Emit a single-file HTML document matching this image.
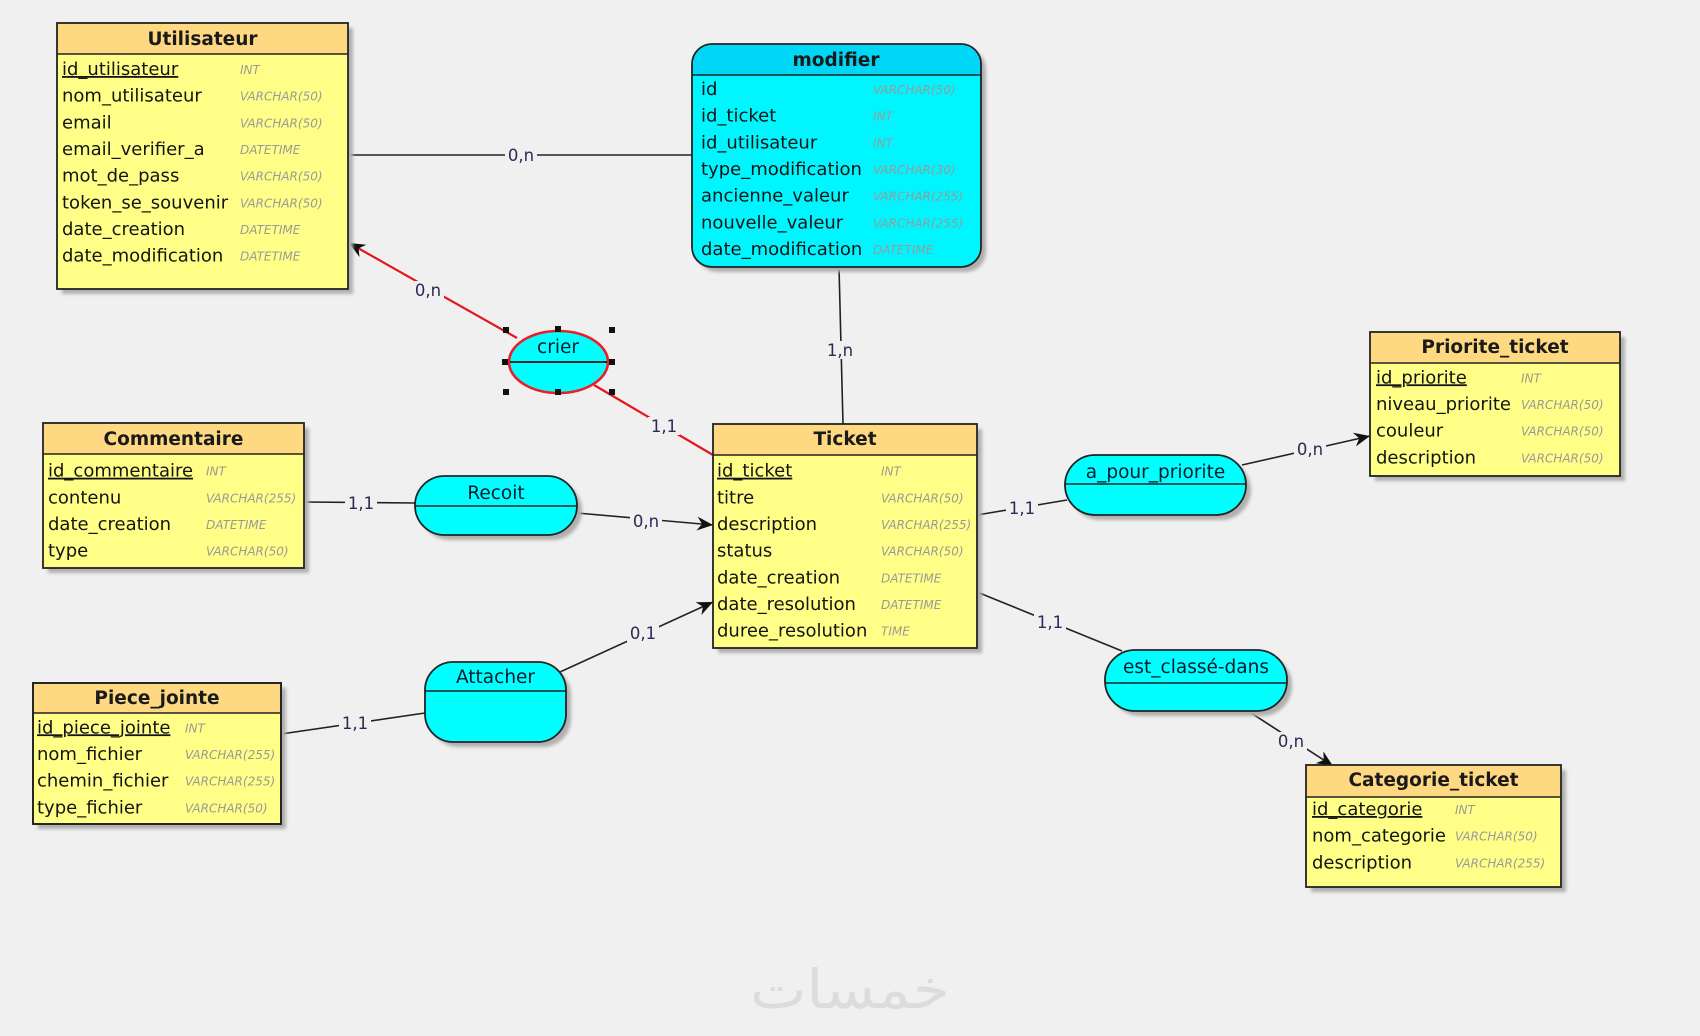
<!DOCTYPE html>
<html><head><meta charset="utf-8"><style>
html,body{margin:0;padding:0;background:#f0f0f0;}
svg{display:block;}
.t{font-family:"DejaVu Sans","Liberation Sans",sans-serif;font-size:18px;fill:#141414;}
.h{font-family:"DejaVu Sans","Liberation Sans",sans-serif;font-size:18.5px;font-weight:bold;fill:#1a1a1a;}
.ty{font-family:"DejaVu Sans","Liberation Sans",sans-serif;font-size:12px;font-style:italic;fill:#999;}
.a{font-family:"DejaVu Sans","Liberation Sans",sans-serif;font-size:18.5px;fill:#0a1a2a;}
.l{font-family:"DejaVu Sans","Liberation Sans",sans-serif;font-size:16.5px;fill:#2a2a55;}
.lb{fill:#f0f0f0;}
.u{text-decoration:underline;}
.ln{stroke:#222;stroke-width:1.6;fill:none;}
.ent{fill:#ffff88;stroke:#222;stroke-width:1.8;}
.hd{fill:#fed982;}
.sh{fill:#b0b0b0;filter:url(#blur);}
.as{fill:#00ffff;stroke:#222;stroke-width:1.8;}
</style></head><body>
<svg width="1700" height="1036" viewBox="0 0 1700 1036" xmlns="http://www.w3.org/2000/svg">
<defs>
<filter id="blur" x="-10%" y="-10%" width="120%" height="120%"><feGaussianBlur stdDeviation="1.5"/></filter>
<marker id="ar" markerUnits="userSpaceOnUse" markerWidth="17" markerHeight="14" refX="16" refY="7" orient="auto">
<path d="M0,0 L16,7 L0,14 L5,7 z" fill="#111"/>
</marker>
<clipPath id="cpPiece"><rect x="33" y="683" width="248" height="141"/></clipPath>
<clipPath id="cpCom"><rect x="43" y="423" width="261" height="145"/></clipPath>
</defs>
<rect width="1700" height="1036" fill="#f0f0f0"/>

<!-- watermark -->
<text x="850" y="1008" text-anchor="middle" font-family="DejaVu Sans, sans-serif" font-size="54" fill="#dcdcdc" textLength="200" lengthAdjust="spacingAndGlyphs">خمسات</text>

<!-- connectors -->
<line class="ln" x1="348" y1="155" x2="692" y2="155"/>
<line class="ln" x1="839" y1="267" x2="843" y2="424"/>
<line x1="517" y1="338" x2="349" y2="243" stroke="#e8141c" stroke-width="2.2" marker-end="url(#ar)"/>
<line x1="594" y1="385" x2="713" y2="455" stroke="#e8141c" stroke-width="2.2"/>
<line class="ln" x1="304" y1="502" x2="415" y2="503"/>
<polyline class="ln" points="577,513 713,525" marker-end="url(#ar)"/>
<line class="ln" x1="560" y1="672" x2="713" y2="602" marker-end="url(#ar)"/>
<line class="ln" x1="281" y1="734" x2="425" y2="713"/>
<line class="ln" x1="977" y1="515" x2="1067" y2="500"/>
<line class="ln" x1="1242" y1="465" x2="1370" y2="436" marker-end="url(#ar)"/>
<line class="ln" x1="977" y1="592" x2="1122" y2="651"/>
<line class="ln" x1="1248" y1="711" x2="1333" y2="766" marker-end="url(#ar)"/>

<!-- connector labels -->
<g>
<rect class="lb" x="505" y="146" width="32" height="18"/><text class="l" x="521" y="161" text-anchor="middle">0,n</text>
<rect class="lb" x="412" y="281" width="32" height="18"/><text class="l" x="428" y="296" text-anchor="middle">0,n</text>
<rect class="lb" x="648" y="417" width="32" height="18"/><text class="l" x="664" y="432" text-anchor="middle">1,1</text>
<rect class="lb" x="824" y="341" width="32" height="18"/><text class="l" x="840" y="356" text-anchor="middle">1,n</text>
<rect class="lb" x="345" y="494" width="32" height="18"/><text class="l" x="361" y="509" text-anchor="middle">1,1</text>
<rect class="lb" x="630" y="512" width="32" height="18"/><text class="l" x="646" y="527" text-anchor="middle">0,n</text>
<rect class="lb" x="627" y="624" width="32" height="18"/><text class="l" x="643" y="639" text-anchor="middle">0,1</text>
<rect class="lb" x="339" y="714" width="32" height="18"/><text class="l" x="355" y="729" text-anchor="middle">1,1</text>
<rect class="lb" x="1006" y="499" width="32" height="18"/><text class="l" x="1022" y="514" text-anchor="middle">1,1</text>
<rect class="lb" x="1294" y="440" width="32" height="18"/><text class="l" x="1310" y="455" text-anchor="middle">0,n</text>
<rect class="lb" x="1034" y="613" width="32" height="18"/><text class="l" x="1050" y="628" text-anchor="middle">1,1</text>
<rect class="lb" x="1275" y="732" width="32" height="18"/><text class="l" x="1291" y="747" text-anchor="middle">0,n</text>
</g>

<!-- Utilisateur -->
<rect class="sh" x="62" y="28" width="291" height="266"/>
<rect class="ent" x="57" y="23" width="291" height="266"/>
<rect class="hd" x="58" y="24" width="289" height="30"/>
<line class="ln" x1="57" y1="54" x2="348" y2="54" stroke-width="1.8"/>
<text class="h" x="202.5" y="45" text-anchor="middle">Utilisateur</text>
<text class="t u" x="62" y="75">id_utilisateur</text><text class="ty" x="240" y="74">INT</text>
<text class="t" x="62" y="101.7">nom_utilisateur</text><text class="ty" x="240" y="100.7">VARCHAR(50)</text>
<text class="t" x="62" y="128.3">email</text><text class="ty" x="240" y="127.3">VARCHAR(50)</text>
<text class="t" x="62" y="155">email_verifier_a</text><text class="ty" x="240" y="154">DATETIME</text>
<text class="t" x="62" y="181.7">mot_de_pass</text><text class="ty" x="240" y="180.7">VARCHAR(50)</text>
<text class="t" x="62" y="208.3">token_se_souvenir</text><text class="ty" x="240" y="207.3">VARCHAR(50)</text>
<text class="t" x="62" y="235">date_creation</text><text class="ty" x="240" y="234">DATETIME</text>
<text class="t" x="62" y="261.7">date_modification</text><text class="ty" x="240" y="260.7">DATETIME</text>

<!-- modifier -->
<rect class="sh" x="697" y="49" width="289" height="223" rx="20"/>
<rect x="692" y="44" width="289" height="223" rx="20" fill="#00f6ff" stroke="#222" stroke-width="1.8"/>
<path d="M693,75 L693,64 A19,19 0 0 1 712,45 L961,45 A19,19 0 0 1 980,64 L980,75 Z" fill="#00d6f6"/>
<line class="ln" x1="692" y1="75" x2="981" y2="75" stroke-width="1.8"/>
<text class="h" x="836" y="66" text-anchor="middle">modifier</text>
<text class="t" x="701" y="95">id</text><text class="ty" x="873" y="94">VARCHAR(50)</text>
<text class="t" x="701" y="121.7">id_ticket</text><text class="ty" x="873" y="120.7">INT</text>
<text class="t" x="701" y="148.3">id_utilisateur</text><text class="ty" x="873" y="147.3">INT</text>
<text class="t" x="701" y="175">type_modification</text><text class="ty" x="873" y="174">VARCHAR(30)</text>
<text class="t" x="701" y="201.7">ancienne_valeur</text><text class="ty" x="873" y="200.7">VARCHAR(255)</text>
<text class="t" x="701" y="228.3">nouvelle_valeur</text><text class="ty" x="873" y="227.3">VARCHAR(255)</text>
<text class="t" x="701" y="255">date_modification</text><text class="ty" x="873" y="254">DATETIME</text>

<!-- Ticket -->
<rect class="sh" x="718" y="429" width="264" height="224"/>
<rect class="ent" x="713" y="424" width="264" height="224"/>
<rect class="hd" x="714" y="425" width="262" height="30"/>
<line class="ln" x1="713" y1="455" x2="977" y2="455" stroke-width="1.8"/>
<text class="h" x="845" y="445" text-anchor="middle">Ticket</text>
<text class="t u" x="717" y="476.7">id_ticket</text><text class="ty" x="881" y="475.7">INT</text>
<text class="t" x="717" y="503.3">titre</text><text class="ty" x="881" y="502.3">VARCHAR(50)</text>
<text class="t" x="717" y="530">description</text><text class="ty" x="881" y="529">VARCHAR(255)</text>
<text class="t" x="717" y="556.7">status</text><text class="ty" x="881" y="555.7">VARCHAR(50)</text>
<text class="t" x="717" y="583.3">date_creation</text><text class="ty" x="881" y="582.3">DATETIME</text>
<text class="t" x="717" y="610">date_resolution</text><text class="ty" x="881" y="609">DATETIME</text>
<text class="t" x="717" y="636.7">duree_resolution</text><text class="ty" x="881" y="635.7">TIME</text>

<!-- Commentaire -->
<rect class="sh" x="48" y="428" width="261" height="145"/>
<rect class="ent" x="43" y="423" width="261" height="145"/>
<rect class="hd" x="44" y="424" width="259" height="30"/>
<line class="ln" x1="43" y1="454" x2="304" y2="454" stroke-width="1.8"/>
<text class="h" x="173.5" y="445" text-anchor="middle">Commentaire</text>
<g clip-path="url(#cpCom)">
<text class="t u" x="48" y="476.7">id_commentaire</text><text class="ty" x="206" y="475.7">INT</text>
<text class="t" x="48" y="503.3">contenu</text><text class="ty" x="206" y="502.3">VARCHAR(255)</text>
<text class="t" x="48" y="530">date_creation</text><text class="ty" x="206" y="529">DATETIME</text>
<text class="t" x="48" y="556.7">type</text><text class="ty" x="206" y="555.7">VARCHAR(50)</text>
</g>

<!-- Piece_jointe -->
<rect class="sh" x="38" y="688" width="248" height="141"/>
<rect class="ent" x="33" y="683" width="248" height="141"/>
<rect class="hd" x="34" y="684" width="246" height="29"/>
<line class="ln" x1="33" y1="713" x2="281" y2="713" stroke-width="1.8"/>
<text class="h" x="157" y="704" text-anchor="middle">Piece_jointe</text>
<g clip-path="url(#cpPiece)">
<text class="t u" x="37" y="733.3">id_piece_jointe</text><text class="ty" x="185" y="732.3">INT</text>
<text class="t" x="37" y="760">nom_fichier</text><text class="ty" x="185" y="759">VARCHAR(255)</text>
<text class="t" x="37" y="786.7">chemin_fichier</text><text class="ty" x="185" y="785.7">VARCHAR(255)</text>
<text class="t" x="37" y="813.3">type_fichier</text><text class="ty" x="185" y="812.3">VARCHAR(50)</text>
</g>
<rect x="33" y="683" width="248" height="141" fill="none" stroke="#222" stroke-width="1.8"/>

<!-- Priorite_ticket -->
<rect class="sh" x="1375" y="337" width="250" height="144"/>
<rect class="ent" x="1370" y="332" width="250" height="144"/>
<rect class="hd" x="1371" y="333" width="248" height="30"/>
<line class="ln" x1="1370" y1="363" x2="1620" y2="363" stroke-width="1.8"/>
<text class="h" x="1495" y="353" text-anchor="middle">Priorite_ticket</text>
<text class="t u" x="1376" y="383.3">id_priorite</text><text class="ty" x="1521" y="382.3">INT</text>
<text class="t" x="1376" y="410">niveau_priorite</text><text class="ty" x="1521" y="409">VARCHAR(50)</text>
<text class="t" x="1376" y="436.7">couleur</text><text class="ty" x="1521" y="435.7">VARCHAR(50)</text>
<text class="t" x="1376" y="463.3">description</text><text class="ty" x="1521" y="462.3">VARCHAR(50)</text>

<!-- Categorie_ticket -->
<rect class="sh" x="1311" y="770" width="255" height="122"/>
<rect class="ent" x="1306" y="765" width="255" height="122"/>
<rect class="hd" x="1307" y="766" width="253" height="31"/>
<line class="ln" x1="1306" y1="797" x2="1561" y2="797" stroke-width="1.8"/>
<text class="h" x="1433.5" y="786" text-anchor="middle">Categorie_ticket</text>
<text class="t u" x="1312" y="815">id_categorie</text><text class="ty" x="1455" y="814">INT</text>
<text class="t" x="1312" y="841.7">nom_categorie</text><text class="ty" x="1455" y="840.7">VARCHAR(50)</text>
<text class="t" x="1312" y="868.3">description</text><text class="ty" x="1455" y="867.3">VARCHAR(255)</text>

<!-- Associations -->
<rect class="sh" x="420" y="481" width="162" height="59" rx="29.5"/>
<rect class="as" x="415" y="476" width="162" height="59" rx="29.5"/>
<line class="ln" x1="415" y1="506" x2="577" y2="506" stroke-width="1.8"/>
<text class="a" x="496" y="499" text-anchor="middle">Recoit</text>

<rect class="sh" x="430" y="667" width="141" height="80" rx="28"/>
<rect class="as" x="425" y="662" width="141" height="80" rx="28"/>
<line class="ln" x1="425" y1="691" x2="566" y2="691" stroke-width="1.8"/>
<text class="a" x="495.5" y="683" text-anchor="middle">Attacher</text>

<rect class="sh" x="1070" y="460" width="181" height="60" rx="30"/>
<rect class="as" x="1065" y="455" width="181" height="60" rx="30"/>
<line class="ln" x1="1065" y1="484" x2="1246" y2="484" stroke-width="1.8"/>
<text class="a" x="1155.5" y="478" text-anchor="middle">a_pour_priorite</text>

<rect class="sh" x="1110" y="655" width="182" height="61" rx="30"/>
<rect class="as" x="1105" y="650" width="182" height="61" rx="30"/>
<line class="ln" x1="1105" y1="683" x2="1287" y2="683" stroke-width="1.8"/>
<text class="a" x="1196" y="673" text-anchor="middle">est_classé-dans</text>

<!-- crier (selected) -->
<ellipse cx="558.5" cy="362" rx="49.5" ry="31" fill="#00ffff" stroke="#ee1c24" stroke-width="2.6"/>
<line x1="510" y1="362" x2="607" y2="362" stroke="#111" stroke-width="1.8"/>
<text class="a" x="558" y="353" text-anchor="middle">crier</text>
<g fill="#111">
<rect x="503" y="327" width="6" height="6"/>
<rect x="555" y="326" width="6" height="6"/>
<rect x="609" y="327" width="6" height="6"/>
<rect x="502" y="359" width="6" height="6"/>
<rect x="609" y="359" width="6" height="6"/>
<rect x="503" y="389" width="6" height="6"/>
<rect x="555" y="389" width="6" height="6"/>
<rect x="609" y="389" width="6" height="6"/>
</g>
</svg>
</body></html>
